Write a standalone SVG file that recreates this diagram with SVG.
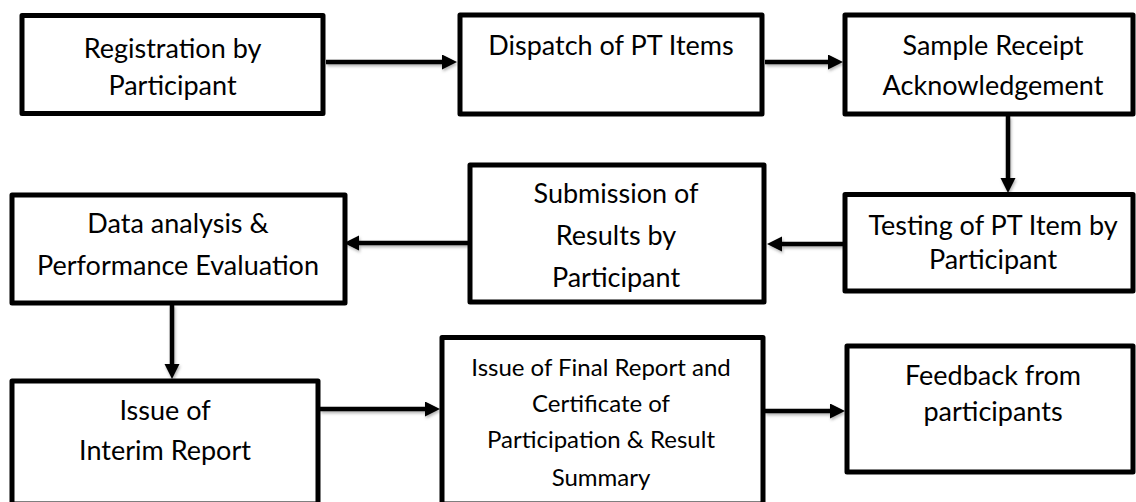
<svg xmlns="http://www.w3.org/2000/svg" width="1136" height="502" viewBox="0 0 1136 502">
<style>
.box{fill:#fff;stroke:#000;stroke-width:5;stroke-linejoin:round}
.t{font-family:Lato,"Liberation Sans",sans-serif;font-size:27px;fill:#000;text-anchor:middle}
.s{font-size:24px}
.c{fill:none;stroke:#000;stroke-width:4.5;marker-end:url(#ah)}
</style>
<defs>
<marker id="ah" markerUnits="userSpaceOnUse" markerWidth="16" markerHeight="16" refX="0" refY="7.5" orient="auto">
<path d="M0,0 L15,7.5 L0,15 z" fill="#000"/>
</marker>
<filter id="sh" filterUnits="userSpaceOnUse" x="0" y="0" width="1136" height="502">
<feDropShadow dx="1" dy="2" stdDeviation="1.5" flood-color="#000" flood-opacity="0.3"/>
</filter>
</defs>
<rect width="1136" height="502" fill="#fff"/>
<g id="connectors" filter="url(#sh)">
<path class="c" d="M326,62 H442"/>
<path class="c" d="M765,62 H828"/>
<path class="c" d="M1008,116 V178"/>
<path class="c" d="M843,244 H782"/>
<path class="c" d="M468,243 H359"/>
<path class="c" d="M172,305 V364"/>
<path class="c" d="M320,409 H425"/>
<path class="c" d="M765,411 H830"/>
</g>
<g id="n1"><rect class="box" x="22" y="15.5" width="301" height="98"/>
<text class="t" x="172.5" y="58">Registration by</text><text class="t" x="172.5" y="95">Participant</text></g>
<g id="n2"><rect class="box" x="460" y="15" width="302" height="99"/>
<text class="t" x="611" y="55">Dispatch of PT Items</text></g>
<g id="n3"><rect class="box" x="845" y="15" width="288" height="99"/>
<text class="t" x="993" y="55">Sample Receipt</text><text class="t" x="993" y="95">Acknowledgement</text></g>
<g id="n4"><rect class="box" x="845" y="194.5" width="288" height="96.5"/>
<text class="t" x="993" y="235">Testing of PT Item by</text><text class="t" x="993" y="269">Participant</text></g>
<g id="n5"><rect class="box" x="470" y="165" width="294" height="137"/>
<text class="t" x="616" y="203">Submission of</text><text class="t" x="616" y="245">Results by</text><text class="t" x="616" y="287">Participant</text></g>
<g id="n6"><rect class="box" x="12" y="195" width="333" height="108"/>
<text class="t" x="178" y="233">Data analysis &amp;</text><text class="t" x="178" y="275">Performance Evaluation</text></g>
<g id="n7"><rect class="box" x="12" y="381" width="306" height="123"/>
<text class="t" x="165" y="420">Issue of</text><text class="t" x="165" y="460">Interim Report</text></g>
<g id="n8"><rect class="box" x="442" y="337.5" width="321" height="166.5"/>
<text class="t s" x="601" y="376">Issue of Final Report and</text><text class="t s" x="601" y="412">Certificate of</text><text class="t s" x="601" y="448">Participation &amp; Result</text><text class="t s" x="601" y="486">Summary</text></g>
<g id="n9"><rect class="box" x="847" y="346" width="286" height="126"/>
<text class="t" x="993" y="385">Feedback from</text><text class="t" x="993" y="421">participants</text></g>
</svg>
